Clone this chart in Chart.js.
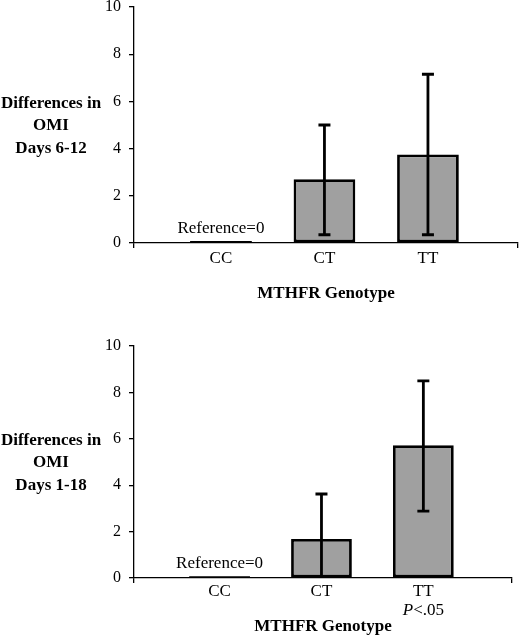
<!DOCTYPE html>
<html>
<head>
<meta charset="utf-8">
<script src="https://cdn.jsdelivr.net/npm/chart.js@4.4.0/dist/chart.umd.min.js"></script>
<style>
    html, body { margin: 0; padding: 0; background: #fff; }
    .panel { position: absolute; left: 0; width: 520px; }
    #topPanel { top: 0; height: 318px; }
    #bottomPanel { top: 318px; height: 317px; }
</style>
</head>
<body>
<div class="panel" id="topPanel"><canvas id="chartTop"></canvas></div>
<div class="panel" id="bottomPanel"><canvas id="chartBottom"></canvas></div>
<script>
const genotypes = ['CC', 'CT', 'TT'];
const yTicks = [0, 2, 4, 6, 8, 10];

// Differences in OMI, days 6-12 (CC is the reference group)
const days612Mean = [0.08, 2.7, 3.75];
const days612Low = [null, 0.35, 0.35];
const days612High = [null, 5.0, 7.15];

// Differences in OMI, days 1-18
const days118Mean = [0.08, 1.68, 5.72];
const days118Low = [null, -0.3, 2.88];
const days118High = [null, 3.62, 8.5];

const serif = "'Liberation Serif', 'Times New Roman', serif";
Chart.defaults.font.family = serif;
Chart.defaults.color = '#000';
Chart.defaults.animation = false;

// whiskers with caps, drawn from the y scale
const errorBars = {
    id: 'errorBars',
    afterDatasetsDraw(chart) {
        const ctx = chart.ctx;
        const y = chart.scales.y;
        chart.data.datasets.forEach((ds, di) => {
            const meta = chart.getDatasetMeta(di);
            meta.data.forEach((bar, i) => {
                const lo = ds.errLow[i];
                const hi = ds.errHigh[i];
                if (lo === null || hi === null) return;
                const yLo = y.getPixelForValue(Math.max(lo, y.min));
                const yHi = y.getPixelForValue(hi);
                ctx.save();
                ctx.strokeStyle = '#000';
                ctx.lineWidth = 2.8;
                ctx.beginPath();
                ctx.moveTo(bar.x, yLo);
                ctx.lineTo(bar.x, yHi);
                ctx.moveTo(bar.x - 6, yHi);
                ctx.lineTo(bar.x + 6, yHi);
                if (lo >= y.min) {
                    ctx.moveTo(bar.x - 6, yLo);
                    ctx.lineTo(bar.x + 6, yLo);
                }
                ctx.stroke();
                ctx.restore();
            });
        });
    }
};

// side title, reference note and significance note
const extraText = {
    id: 'extraText',
    afterDraw(chart, args, o) {
        const ctx = chart.ctx;
        const area = chart.chartArea;
        const x = chart.scales.x;
        const y = chart.scales.y;
        ctx.save();
        ctx.fillStyle = '#000';
        ctx.textAlign = 'center';
        ctx.textBaseline = 'middle';

        ctx.font = 'bold 17px ' + serif;
        const mid = (area.top + area.bottom) / 2 + 1;
        o.sideLines.forEach((line, i) => {
            ctx.fillText(line, 51, mid + (i - 1) * 22.5);
        });

        ctx.font = '17px ' + serif;
        ctx.fillText(o.refText, x.getPixelForValue(0), y.getPixelForValue(0) - 14);

        if (o.note) {
            const cx = x.getPixelForValue(o.note.index);
            ctx.font = 'italic 17px ' + serif;
            const w1 = ctx.measureText('P').width;
            ctx.font = '17px ' + serif;
            const w2 = ctx.measureText(o.note.rest).width;
            const left = cx - (w1 + w2) / 2;
            ctx.textAlign = 'left';
            ctx.font = 'italic 17px ' + serif;
            ctx.fillText('P', left, o.note.y);
            ctx.font = '17px ' + serif;
            ctx.fillText(o.note.rest, left + w1, o.note.y);
        }
        ctx.restore();
    }
};

function buildChart(canvasId, cfg) {
    return new Chart(document.getElementById(canvasId).getContext('2d'), {
        type: 'bar',
        data: {
            datasets: [{
                data: genotypes.map((g, i) => ({ x: i, y: cfg.mean[i] })),
                errLow: cfg.low,
                errHigh: cfg.high,
                backgroundColor: genotypes.map((g, i) => i === 0 ? '#000' : '#a0a0a0'),
                borderColor: '#000',
                borderWidth: genotypes.map((g, i) => i === 0 ? 0 : 2.8),
                borderSkipped: false,
                barPercentage: 0.71,
                categoryPercentage: 1
            }]
        },
        options: {
            responsive: true,
            maintainAspectRatio: false,
            layout: {
                padding: { top: cfg.padTop, right: cfg.padRight, bottom: 0, left: 0 }
            },
            scales: {
                x: {
                    type: 'linear',
                    min: -0.84,
                    max: 2.87,
                    offset: false,
                    afterBuildTicks: s => {
                        s.ticks = [s.min, 0, 1, 2, s.max].map(v => ({ value: v }));
                    },
                    afterFit: s => {
                        s.height = cfg.xHeight;
                        s.paddingLeft = 0;
                        s.paddingRight = 0;
                    },
                    grid: {
                        display: true,
                        offset: false,
                        drawOnChartArea: false,
                        tickLength: 5,
                        lineWidth: 1.3,
                        tickColor: c => Number.isInteger(c.tick && c.tick.value) ? 'rgba(0,0,0,0)' : '#000'
                    },
                    border: { display: true, color: '#000', width: 1.3 },
                    ticks: {
                        autoSkip: false,
                        maxRotation: 0,
                        padding: cfg.xTickPad,
                        font: { size: 17 },
                        color: '#000',
                        callback: v => Number.isInteger(v) ? genotypes[v] : ''
                    },
                    title: {
                        display: true,
                        text: 'MTHFR Genotype',
                        color: '#000',
                        font: { size: 17, weight: 'bold' },
                        padding: { top: 0, bottom: cfg.xTitlePad }
                    }
                },
                y: {
                    min: 0,
                    max: 10,
                    afterBuildTicks: s => {
                        s.ticks = yTicks.map(v => ({ value: v }));
                    },
                    afterFit: s => {
                        s.width = 134;
                        s.paddingTop = 0;
                        s.paddingBottom = 0;
                    },
                    grid: {
                        display: true,
                        drawOnChartArea: false,
                        tickLength: 5,
                        lineWidth: 1.3,
                        color: '#000'
                    },
                    border: { display: true, color: '#000', width: 1.3 },
                    ticks: { padding: 8, font: { size: 16 }, color: '#000' }
                }
            },
            plugins: {
                legend: { display: false },
                tooltip: { enabled: false },
                extraText: {
                    sideLines: cfg.sideLines,
                    refText: 'Reference=0',
                    note: cfg.note
                }
            }
        },
        plugins: [errorBars, extraText]
    });
}

buildChart('chartTop', {
    mean: days612Mean,
    low: days612Low,
    high: days612High,
    padTop: 7,
    padRight: 2,
    xHeight: 75,
    xTickPad: 0,
    xTitlePad: 14,
    sideLines: ['Differences in', 'OMI', 'Days 6-12'],
    note: null
});

buildChart('chartBottom', {
    mean: days118Mean,
    low: days118Low,
    high: days118High,
    padTop: 28,
    padRight: 8,
    xHeight: 57,
    xTickPad: -2,
    xTitlePad: -2,
    sideLines: ['Differences in', 'OMI', 'Days 1-18'],
    note: { index: 2, rest: '<.05', y: 293 }
});
</script>
</body>
</html>
